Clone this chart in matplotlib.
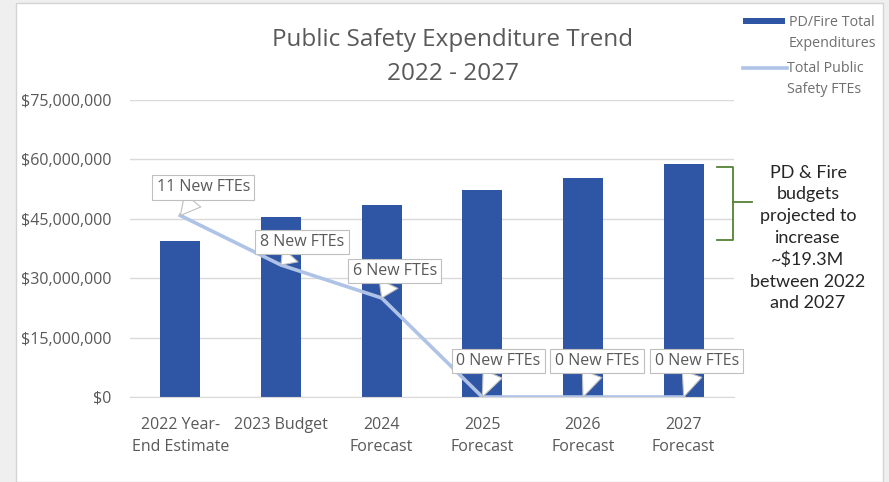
import numpy as np
import matplotlib
matplotlib.use('Agg')
import matplotlib.pyplot as plt
from matplotlib.patches import Rectangle
from matplotlib.lines import Line2D

plt.rcParams['font.family'] = ['Open Sans', 'DejaVu Sans']

categories = ['2022 Year-\nEnd Estimate', '2023 Budget', '2024\nForecast',
              '2025\nForecast', '2026\nForecast', '2027\nForecast']
expenditures = [39.5e6, 45.4e6, 48.6e6, 52.2e6, 55.3e6, 58.8e6]
new_ftes = [11, 8, 6, 0, 0, 0]
fte_labels = [f'{n} New FTEs' for n in new_ftes]
y_ticks = [0, 15e6, 30e6, 45e6, 60e6, 75e6]

bar_color = '#2F55A5'
line_color = '#AFC3E6'
grid_color = '#D9D9D9'
text_color = '#595959'

fig = plt.figure(figsize=(8.89, 4.82), dpi=100)
fig.patch.set_facecolor('#EFEFEF')
W, H = 889, 482
fig.patches.append(Rectangle((16 / W, 0), (883 - 16) / W, (482 - 3) / H,
                             transform=fig.transFigure, facecolor='white',
                             edgecolor='#D4D4D4', linewidth=1, zorder=-5))

ax = fig.add_axes([130 / W, 1 - 397 / H, (734 - 130) / W, (397 - 100) / H])
ax.set_facecolor('none')
x = np.arange(len(categories))
ax.bar(x, expenditures, width=0.4, color=bar_color, zorder=2)
ax.set_xlim(-0.5, len(categories) - 0.5)
ax.set_ylim(0, 75e6)
ax.set_yticks(y_ticks)
ax.set_yticklabels([f'${v:,.0f}' for v in y_ticks])
ax.set_xticks(x)
ax.set_xticklabels(categories, linespacing=1.5)
ax.tick_params(axis='both', length=0, labelsize=11.5, labelcolor=text_color)
ax.tick_params(axis='y', pad=13.5)
ax.tick_params(axis='x', pad=14.5)
for s in ['top', 'right', 'left']:
    ax.spines[s].set_visible(False)
ax.spines['bottom'].set_color(grid_color)
ax.yaxis.grid(True, color=grid_color, linewidth=1, zorder=0)
ax.set_axisbelow(True)

ax2 = ax.twinx()
ax2.set_ylim(0, 18)
ax2.axis('off')
ax2.plot(x, new_ftes, color=line_color, linewidth=2.6, zorder=3)

offsets = [(23, 28), (21, 23), (13, 27), (16, 36), (14, 36), (13, 36)]
for xi, n, lab, off in zip(x, new_ftes, fte_labels, offsets):
    ax2.annotate(lab, xy=(xi, n), xytext=off, textcoords='offset pixels',
                 ha='center', va='center', fontsize=11.5, color=text_color,
                 bbox=dict(boxstyle='square,pad=0.28', facecolor='white',
                           edgecolor='#BFBFBF', linewidth=0.8),
                 arrowprops=dict(arrowstyle='wedge,tail_width=1.3,shrink_factor=0.5',
                                 facecolor='white', edgecolor='#BFBFBF',
                                 linewidth=0.8, shrinkA=0, shrinkB=0),
                 zorder=5)

fig.text(453 / W, 1 - 40 / H, 'Public Safety Expenditure Trend', ha='center',
         va='center', fontsize=17.5, color=text_color)
fig.text(453 / W, 1 - 74 / H, '2022 - 2027', ha='center', va='center',
         fontsize=17.5, color=text_color)

# legend, drawn by hand so handles line up with the first text line
fig.patches.append(Rectangle((743 / W, 1 - 24 / H), 42 / W, 6 / H,
                             transform=fig.transFigure, facecolor=bar_color))
fig.add_artist(Line2D([743 / W, 787 / W], [1 - 68 / H, 1 - 68 / H],
                      color=line_color, linewidth=2.6))
fig.text(789 / W, 1 - 33 / H, 'PD/Fire Total\nExpenditures', ha='left', va='center',
         fontsize=10.3, color='#6F6F6F', linespacing=1.6)
fig.text(787 / W, 1 - 79 / H, 'Total Public\nSafety FTEs', ha='left', va='center',
         fontsize=10.3, color='#6F6F6F', linespacing=1.6)

# bracket and note
bx = [717 / W, 733 / W, 733 / W, 717 / W]
by = [1 - 167 / H, 1 - 167 / H, 1 - 240 / H, 1 - 240 / H]
fig.add_artist(Line2D(bx, by, color='#548235', linewidth=1.3))
fig.add_artist(Line2D([733 / W, 752 / W], [1 - 202 / H, 1 - 202 / H],
                      color='#548235', linewidth=1.3))
fig.text(808 / W, 1 - 238 / H,
         'PD & Fire\nbudgets\nprojected to\nincrease\n~$19.3M\nbetween 2022\nand 2027',
         ha='center', va='center', fontsize=13, color='#262626',
         family=['Lato', 'DejaVu Sans'], linespacing=1.43)

fig.savefig('out.png', dpi=100, facecolor=fig.get_facecolor())
